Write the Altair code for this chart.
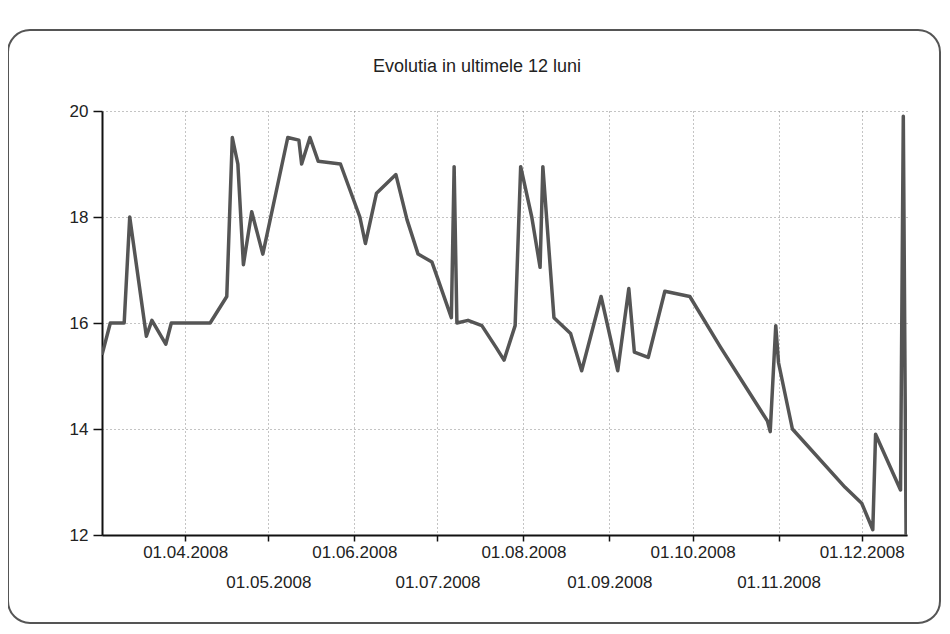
import altair as alt
import pandas as pd

# ---- data ----
dates = [
    "2008-03-02", "2008-03-05", "2008-03-10", "2008-03-12", "2008-03-18", "2008-03-20",
    "2008-03-25", "2008-03-27", "2008-04-10", "2008-04-16", "2008-04-18", "2008-04-20",
    "2008-04-22", "2008-04-25", "2008-04-29", "2008-05-08", "2008-05-12", "2008-05-13",
    "2008-05-16", "2008-05-19", "2008-05-27", "2008-06-03", "2008-06-05", "2008-06-09",
    "2008-06-16", "2008-06-20", "2008-06-24", "2008-06-29", "2008-07-01", "2008-07-06",
    "2008-07-07", "2008-07-08", "2008-07-12", "2008-07-17", "2008-07-22", "2008-07-25",
    "2008-07-29", "2008-07-31", "2008-08-04", "2008-08-07", "2008-08-08", "2008-08-12",
    "2008-08-18", "2008-08-22", "2008-08-29", "2008-09-04", "2008-09-08", "2008-09-10",
    "2008-09-15", "2008-09-21", "2008-09-30", "2008-10-11", "2008-10-28", "2008-10-29",
    "2008-10-31", "2008-11-01", "2008-11-06", "2008-11-25", "2008-12-01", "2008-12-05",
    "2008-12-06", "2008-12-15", "2008-12-16", "2008-12-17",
]
values = [
    15.4, 16.0, 16.0, 18.0, 15.75, 16.05,
    15.6, 16.0, 16.0, 16.5, 19.5, 19.0,
    17.1, 18.1, 17.3, 19.5, 19.45, 19.0,
    19.5, 19.05, 19.0, 18.0, 17.5, 18.45,
    18.8, 17.95, 17.3, 17.15, 16.85, 16.1,
    18.95, 16.0, 16.05, 15.95, 15.55, 15.3,
    15.95, 18.95, 18.0, 17.05, 18.95, 16.1,
    15.8, 15.1, 16.5, 15.1, 16.65, 15.45,
    15.35, 16.6, 16.5, 15.55, 14.15, 13.95,
    15.95, 15.25, 14.0, 12.9, 12.6, 12.1,
    13.9, 12.85, 19.9, 12.0,
]
tick_months = [4, 5, 6, 7, 8, 9, 10, 11, 12]   # 01.04.2008 ... 01.12.2008
y_ticks = [12, 14, 16, 18, 20]
title_text = "Evolutia in ultimele 12 luni"

df = pd.DataFrame({"data": dates, "valoare": values})

FONT = "Liberation Sans"

x_axis = alt.Axis(
    values=[alt.DateTime(year=2008, month=m, date=1, utc=True) for m in tick_months],
    labelExpr="utcmonth(datum.value) % 2 == 1 ? utcFormat(datum.value, '%d.%m.%Y') : ['', utcFormat(datum.value, '%d.%m.%Y')]",
    labelFont=FONT, labelFontSize=17, labelColor="#222", labelLineHeight=30,
    labelOverlap=False, labelFlush=False, labelPadding=3, labelBaseline="top",
    tickSize=6, tickColor="#111", tickWidth=1.5,
    domainColor="#111", domainWidth=2,
    grid=True, gridColor="#888", gridDash=[1, 3], gridWidth=1,
    title=None,
)
y_axis = alt.Axis(
    values=y_ticks,
    labelFont=FONT, labelFontSize=17, labelColor="#222", labelPadding=5,
    tickSize=9, tickColor="#111", tickWidth=1.5,
    domainColor="#111", domainWidth=2,
    grid=True, gridColor="#888", gridDash=[1, 3], gridWidth=1,
    title=None,
)

line = alt.Chart(df).mark_line(
    color="#555555", strokeWidth=3.5, strokeJoin="round", clip=True
).encode(
    x=alt.X("data:T",
            scale=alt.Scale(type="utc",
                            domain=[alt.DateTime(year=2008, month=3, date=2, utc=True),
                                    alt.DateTime(year=2008, month=12, date=17, hours=8, utc=True)]),
            axis=x_axis),
    y=alt.Y("valoare:Q", scale=alt.Scale(domain=[12, 20], nice=False, zero=False), axis=y_axis),
)

one = pd.DataFrame({"t": [title_text]})

# rounded card frame around the chart (decoration)
card = alt.Chart(one).mark_rect(
    fill="transparent", stroke="#555", strokeWidth=2, cornerRadius=22
).encode(
    x=alt.value(-94), x2=alt.value(838), y=alt.value(-81), y2=alt.value(512)
)

# chart title
title = alt.Chart(one).mark_text(
    font=FONT, fontSize=18, color="#222", align="center", baseline="alphabetic"
).encode(
    x=alt.value(375), y=alt.value(-39), text="t:N"
)

chart = alt.layer(card, line, title).properties(
    width=805,
    height=424,
    autosize=alt.AutoSizeParams(type="none"),
    padding={"left": 94, "top": 103, "right": 35, "bottom": 91},
    background="white",
).configure_view(strokeWidth=0)

chart.save("out.html", embed_options={"renderer": "svg", "actions": False})
